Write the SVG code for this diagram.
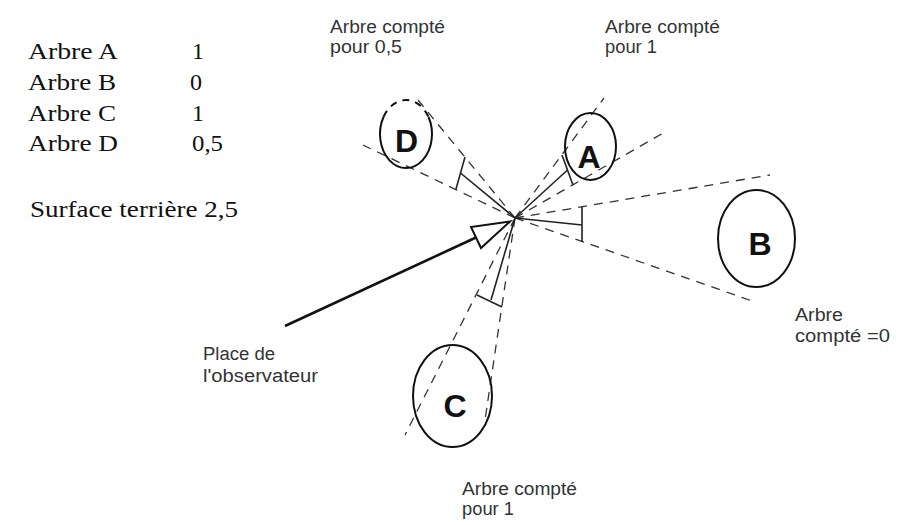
<svg xmlns="http://www.w3.org/2000/svg" width="897" height="525" viewBox="0 0 897 525">
<style>
.serif{font-family:"Liberation Serif","Times New Roman",serif;font-size:24px;fill:#111}
.sans{font-family:"Liberation Sans",Arial,sans-serif;font-size:18px;fill:#333}
.letter{font-family:"Liberation Sans",Arial,sans-serif;font-size:32px;font-weight:bold;fill:#111;text-anchor:middle}
.tree{fill:none;stroke:#111;stroke-width:2}
.sight{fill:none;stroke:#333;stroke-width:1.3;stroke-dasharray:9 7}
.gauge{fill:none;stroke:#222;stroke-width:1.6}
</style>
<rect width="897" height="525" fill="#fff"/>

<g id="table">
  <text class="serif" x="28" y="59" textLength="90" lengthAdjust="spacingAndGlyphs">Arbre A</text>
  <text class="serif" x="192" y="59">1</text>
  <text class="serif" x="28" y="90" textLength="88" lengthAdjust="spacingAndGlyphs">Arbre B</text>
  <text class="serif" x="190" y="90">0</text>
  <text class="serif" x="28" y="121" textLength="88" lengthAdjust="spacingAndGlyphs">Arbre C</text>
  <text class="serif" x="192" y="121">1</text>
  <text class="serif" x="28" y="151" textLength="90" lengthAdjust="spacingAndGlyphs">Arbre D</text>
  <text class="serif" x="192" y="151" textLength="31" lengthAdjust="spacingAndGlyphs">0,5</text>
  <text class="serif" x="30" y="217" textLength="208" lengthAdjust="spacingAndGlyphs">Surface terrière 2,5</text>
</g>

<g id="connectors">
  <!-- D -->
  <line class="sight" x1="515" y1="218" x2="418" y2="100"/>
  <line class="sight" x1="515" y1="218" x2="363" y2="145"/>
  <line class="gauge" x1="515" y1="218" x2="460.5" y2="173"/>
  <line class="gauge" x1="465" y1="157" x2="456" y2="189"/>
  <!-- A -->
  <line class="sight" x1="515" y1="218" x2="604" y2="98"/>
  <line class="sight" x1="515" y1="218" x2="665" y2="132"/>
  <line class="gauge" x1="515" y1="218" x2="567.5" y2="170"/>
  <line class="gauge" x1="562" y1="155" x2="573" y2="185"/>
  <!-- B -->
  <line class="sight" x1="515" y1="218" x2="770" y2="175"/>
  <line class="sight" x1="515" y1="218" x2="755" y2="302"/>
  <line class="gauge" x1="515" y1="218" x2="582" y2="225"/>
  <line class="gauge" x1="582" y1="207" x2="582" y2="242"/>
  <!-- C -->
  <line class="sight" x1="515" y1="218" x2="405" y2="435"/>
  <line class="sight" x1="515" y1="218" x2="485" y2="420"/>
  <line class="gauge" x1="515" y1="218" x2="491" y2="300"/>
  <line class="gauge" x1="477" y1="295" x2="502" y2="307"/>
</g>

<g id="tree-D">
  <path class="tree" d="M428.5,117 A26,34 0 1 1 383.5,117"/>
  <path class="tree" stroke-dasharray="7 6" d="M383.5,117 A26,34 0 0 1 428.5,117"/>
  <text class="letter" x="406.5" y="152">D</text>
</g>
<g id="tree-A">
  <ellipse class="tree" cx="590.5" cy="146.5" rx="25.5" ry="33.5"/>
  <text class="letter" x="589" y="168">A</text>
</g>
<g id="tree-B">
  <ellipse class="tree" cx="756.5" cy="238.5" rx="38.5" ry="48.5"/>
  <text class="letter" x="760" y="255">B</text>
</g>
<g id="tree-C">
  <ellipse class="tree" cx="452.5" cy="396" rx="39.5" ry="51"/>
  <text class="letter" x="455" y="417">C</text>
</g>

<g id="observer">
  <line x1="285" y1="326" x2="476" y2="237.5" stroke="#111" stroke-width="2.6"/>
  <polygon points="471,227 481,248 510,221.5" fill="#fff" stroke="#111" stroke-width="2"/>
  <text class="sans" x="203" y="360" textLength="72" lengthAdjust="spacingAndGlyphs">Place de</text>
  <text class="sans" x="203" y="382" textLength="115" lengthAdjust="spacingAndGlyphs">l'observateur</text>
</g>

<g id="labels">
  <text class="sans" x="330" y="33" textLength="115" lengthAdjust="spacingAndGlyphs">Arbre compté</text>
  <text class="sans" x="330" y="53" textLength="72" lengthAdjust="spacingAndGlyphs">pour 0,5</text>
  <text class="sans" x="605" y="33" textLength="115" lengthAdjust="spacingAndGlyphs">Arbre compté</text>
  <text class="sans" x="605" y="53" textLength="52" lengthAdjust="spacingAndGlyphs">pour 1</text>
  <text class="sans" x="795" y="321" textLength="48" lengthAdjust="spacingAndGlyphs">Arbre</text>
  <text class="sans" x="795" y="342" textLength="95" lengthAdjust="spacingAndGlyphs">compté =0</text>
  <text class="sans" x="462" y="495" textLength="115" lengthAdjust="spacingAndGlyphs">Arbre compté</text>
  <text class="sans" x="462" y="515" textLength="52" lengthAdjust="spacingAndGlyphs">pour 1</text>
</g>
</svg>
